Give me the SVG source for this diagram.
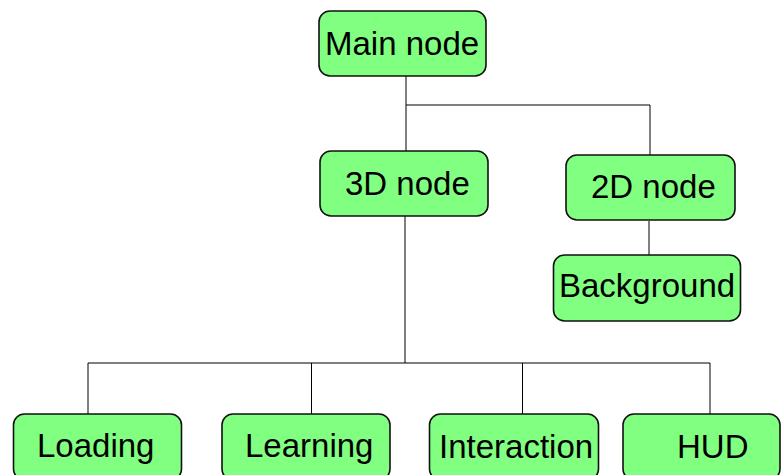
<svg xmlns="http://www.w3.org/2000/svg" width="782" height="475" viewBox="0 0 782 475">
  <style>
    .box { fill: #80ff80; stroke: #111; stroke-width: 1.6; }
    .lbl { font-family: "Liberation Sans", Arial, sans-serif; font-size: 33px; fill: #000; }
    .wire { fill: none; stroke: #000; stroke-width: 1; }
  </style>
  <rect width="782" height="475" fill="#fff"/>

  <!-- connectors -->
  <g id="connectors" class="wire">
    <path d="M406 76 V153"/>
    <path d="M406 105 H650 V155"/>
    <path d="M649 221 V255"/>
    <path d="M405 216 V363"/>
    <path d="M88 414 V363 H710 V414"/>
    <path d="M311.5 363 V414"/>
    <path d="M522.5 363 V414"/>
  </g>

  <g id="main-node">
    <rect class="box" x="319" y="11" width="167" height="65" rx="11"/>
    <text class="lbl" x="325" y="55">Main node</text>
  </g>
  <g id="node-3d">
    <rect class="box" x="320" y="151" width="168" height="65" rx="11"/>
    <text class="lbl" x="345" y="195">3D node</text>
  </g>
  <g id="node-2d">
    <rect class="box" x="566" y="155" width="169" height="65" rx="11"/>
    <text class="lbl" x="591" y="198">2D node</text>
  </g>
  <g id="background">
    <rect class="box" x="553.5" y="255" width="187" height="66" rx="11"/>
    <text class="lbl" x="559" y="297">Background</text>
  </g>
  <g id="loading">
    <rect class="box" x="13.5" y="414" width="168" height="66" rx="11"/>
    <text class="lbl" x="37" y="457">Loading</text>
  </g>
  <g id="learning">
    <rect class="box" x="222" y="414" width="168" height="66" rx="11"/>
    <text class="lbl" x="245" y="457">Learning</text>
  </g>
  <g id="interaction">
    <rect class="box" x="429.5" y="414" width="169" height="66" rx="11"/>
    <text class="lbl" x="439" y="458">Interaction</text>
  </g>
  <g id="hud">
    <rect class="box" x="623" y="414" width="157" height="66" rx="11"/>
    <text class="lbl" x="677" y="458">HUD</text>
  </g>
</svg>
